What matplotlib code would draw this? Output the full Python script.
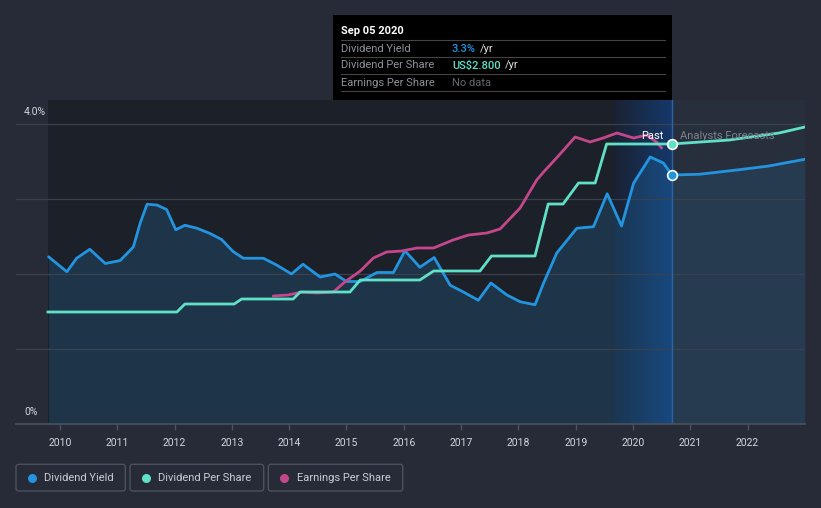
import matplotlib
matplotlib.use("Agg")
import matplotlib.pyplot as plt
import numpy as np
from matplotlib.patches import Rectangle, FancyBboxPatch
from matplotlib.colors import LinearSegmentedColormap

plt.rcParams["font.family"] = ["Roboto", "DejaVu Sans"]

# Colors
BG = "#262b37"
PAST_BG = "#1c2029"
FORECAST_BG = "#272f3d"
GRID = "#3a404c"
AXIS = "#4b515d"
BLUE = "#2394df"
TEAL = "#5fe0c7"
PINK = "#c4478b"
TXT = "#d3d6dc"
MUTED = "#8e929a"

# ---- data (decimal years) ----
yield_t = [2009.80, 2010.12, 2010.29, 2010.52, 2010.79, 2011.05, 2011.28, 2011.40,
           2011.52, 2011.69, 2011.86, 2012.02, 2012.18, 2012.39, 2012.62, 2012.82,
           2013.02, 2013.20, 2013.55, 2013.78, 2014.04, 2014.24, 2014.54, 2014.80,
           2015.00, 2015.24, 2015.53, 2015.82, 2016.02, 2016.28, 2016.53, 2016.81,
           2017.04, 2017.30, 2017.52, 2017.80, 2018.03, 2018.29, 2018.44, 2018.67,
           2019.02, 2019.31, 2019.55, 2019.80, 2020.01, 2020.30, 2020.53, 2020.68]
yield_pct = [2.23, 2.03, 2.21, 2.33, 2.14, 2.18, 2.36, 2.68,
             2.93, 2.92, 2.86, 2.59, 2.65, 2.61, 2.54, 2.46,
             2.30, 2.21, 2.21, 2.12, 2.00, 2.13, 1.96, 2.00,
             1.90, 1.90, 2.02, 2.02, 2.31, 2.09, 2.22, 1.85,
             1.76, 1.65, 1.88, 1.72, 1.63, 1.59, 1.88, 2.28,
             2.61, 2.63, 3.07, 2.64, 3.21, 3.56, 3.48, 3.32]
yield_fc_t = [2020.68, 2021.16, 2021.85, 2022.37, 2023.00]
yield_fc_pct = [3.32, 3.33, 3.39, 3.44, 3.53]

dps_t = [2009.79, 2012.04, 2012.18, 2013.04, 2013.17, 2014.07, 2014.19, 2015.06,
         2015.24, 2016.28, 2016.52, 2017.33, 2017.53, 2018.29, 2018.52, 2018.78,
         2019.05, 2019.34, 2019.54, 2020.68]
dps_usd = [1.12, 1.12, 1.20, 1.20, 1.25, 1.25, 1.32, 1.32,
           1.44, 1.44, 1.53, 1.53, 1.68, 1.68, 2.20, 2.20,
           2.41, 2.41, 2.80, 2.80]
dps_fc_t = [2020.68, 2021.68, 2022.55, 2023.00]
dps_fc_usd = [2.80, 2.84, 2.91, 2.97]

eps_t = [2013.72, 2013.98, 2014.22, 2014.48, 2014.77, 2014.97, 2015.24, 2015.47,
         2015.70, 2015.96, 2016.23, 2016.52, 2016.86, 2017.13, 2017.45, 2017.68,
         2018.03, 2018.32, 2018.44, 2018.76, 2018.99, 2019.25, 2019.48, 2019.72,
         2020.01, 2020.24, 2020.41, 2020.50]
eps_val = [1.28, 1.29, 1.32, 1.31, 1.32, 1.42, 1.53, 1.66,
           1.72, 1.73, 1.76, 1.76, 1.84, 1.89, 1.91, 1.95,
           2.16, 2.44, 2.52, 2.72, 2.87, 2.82, 2.86, 2.91,
           2.86, 2.89, 2.82, 2.76]

years = list(range(2010, 2023))
y_ticks = [0, 4]
y_tick_labels = ["0%", "4.0%"]

DATA_START = 2009.79
PAST_START = 2019.668
CURSOR = 2020.68

# ---- figure ----
W, H = 821, 508
fig = plt.figure(figsize=(W / 100, H / 100), dpi=100)
fig.patch.set_facecolor(BG)

ax = fig.add_axes([16 / W, 1 - 424 / H, 789 / W, 324 / H])
ax.set_facecolor(BG)

# background regions
ax.axvspan(DATA_START, PAST_START, color=PAST_BG, lw=0, zorder=0)
ax.axvspan(CURSOR, 2023.002, color=FORECAST_BG, lw=0, zorder=0)
grad = np.linspace(0, 1, 64).reshape(1, -1)
cmap = LinearSegmentedColormap.from_list("past", ["#1a2233", "#15386a"])
ax.imshow(grad, cmap=cmap, extent=[PAST_START, CURSOR, 0, 4.32],
          aspect="auto", zorder=0, interpolation="bicubic")

# grid
for g in [1, 2, 3, 4]:
    ax.axhline(g, color=GRID, lw=0.9, zorder=1.5)

# dividend yield
ax.fill_between(yield_t, yield_pct, 0, color=BLUE, alpha=0.18, lw=0, zorder=1)
ax.fill_between(yield_fc_t, yield_fc_pct, 0, color=BLUE, alpha=0.12, lw=0, zorder=1)
ax.plot(yield_t, yield_pct, color=BLUE, lw=2.0, zorder=3,
        solid_joinstyle="round", solid_capstyle="round")
ax.plot(yield_fc_t, yield_fc_pct, color=BLUE, lw=2.0, zorder=3,
        solid_joinstyle="round")
ax.axvline(CURSOR, color="#2c64aa", lw=1, zorder=2)

ax.set_xlim(2009.232, 2023.002)
ax.set_ylim(0, 4.32)
ax.set_yticks([])
ax.set_xticks(years)
ax.set_xticklabels([str(y) for y in years])
ax.tick_params(axis="x", direction="out", length=4, width=1, color=AXIS,
               labelcolor=TXT, labelsize=7.5, pad=6)
for s in ["top", "right", "left"]:
    ax.spines[s].set_visible(False)
ax.spines["bottom"].set_color(AXIS)
ax.spines["bottom"].set_linewidth(1.2)

# dividend per share / earnings per share on a hidden secondary scale
ax2 = ax.twinx()
ax2.set_ylim(0, 3.24)
ax2.axis("off")
ax2.plot(dps_t, dps_usd, color=TEAL, lw=2.0, zorder=3, solid_joinstyle="round")
ax2.plot(dps_fc_t, dps_fc_usd, color=TEAL, lw=2.0, zorder=3, solid_joinstyle="round")
ax2.plot(eps_t, eps_val, color=PINK, lw=2.0, zorder=2, solid_joinstyle="round",
         solid_capstyle="round")
ax2.plot(dps_t[-1], dps_usd[-1], "o", ms=7, mfc=TEAL, mec="white", mew=1.2, zorder=5)
ax2.plot(yield_t[-1], yield_pct[-1], "o", ms=7, mfc=BLUE, mec="white", mew=1.2,
         zorder=5, transform=ax.transData)
ax2.set_xlim(2009.232, 2023.002)

# ---- overlay in pixel coordinates ----
ov = fig.add_axes([0, 0, 1, 1])
ov.set_xlim(0, W)
ov.set_ylim(H, 0)
ov.axis("off")
ov.patch.set_visible(False)

# y labels
for v, lab in zip(y_ticks, y_tick_labels):
    ypix = 424 - v * 75 - 12
    ov.text(24, ypix, lab, color=TXT, fontsize=7.5, ha="left", va="center")

ov.text(664, 136, "Past", color="white", fontsize=8, ha="right", va="center")
ov.text(680, 136, "Analysts Forecasts", color="#7d828c", fontsize=8,
        ha="left", va="center")

# tooltip
ov.add_patch(Rectangle((333, 15), 339, 85, facecolor="#000000", edgecolor="none"))
ov.text(341, 31, "Sep 05 2020", color="white", fontsize=8, fontweight="bold",
        ha="left", va="center")
for ly in [40, 57.3, 74.3, 91.3]:
    ov.plot([341, 665], [ly, ly], color="#444444", lw=0.8)
rows = [("Dividend Yield", "3.3%", BLUE, "/yr"),
        ("Dividend Per Share", "US$2.800", TEAL, "/yr"),
        ("Earnings Per Share", "No data", "#62666e", "")]
renderer = fig.canvas.get_renderer()
for i, (lab, val, col, suf) in enumerate(rows):
    ry = 48.5 + i * 17
    ov.text(341, ry, lab, color=MUTED, fontsize=8, ha="left", va="center")
    vt = ov.text(452, ry, val, color=col, fontsize=8, ha="left", va="center",
                 fontweight="medium" if suf else "normal")
    if suf:
        bb = vt.get_window_extent(renderer)
        ov.text(bb.x1 + 4, ry, suf, color="#e0e0e0", fontsize=8, ha="left",
                va="center")

# legend
legend_items = [("Dividend Yield", BLUE, 16, 109.3),
                ("Dividend Per Share", TEAL, 130, 133.7),
                ("Earnings Per Share", PINK, 268.3, 134.4)]
for lab, col, x0, w in legend_items:
    ov.add_patch(FancyBboxPatch((x0, 464.3), w, 26.7,
                                boxstyle="round,pad=0,rounding_size=2.5",
                                facecolor="none", edgecolor=AXIS, lw=1))
    ov.plot(x0 + 16, 477.6, "o", ms=6.5, color=col, mec="none")
    ov.text(x0 + 28.3, 477.6, lab, color="#c9cdd5", fontsize=8, ha="left", va="center")

fig.savefig("out.png", dpi=100, facecolor=BG)
